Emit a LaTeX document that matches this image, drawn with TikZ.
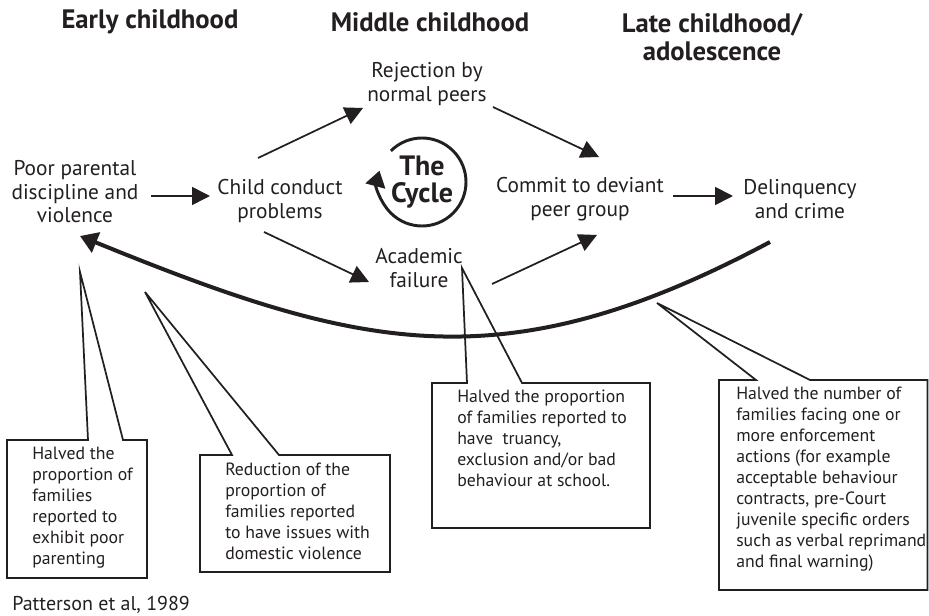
\documentclass[tikz,border=0pt]{standalone}
\usepackage{fontspec}
\setmainfont{PT Sans}
\usetikzlibrary{arrows.meta}
\definecolor{ink}{RGB}{35,31,32}

\begin{document}
\begin{tikzpicture}[x=0.75pt, y=-0.75pt,
    stage/.style={font=\bfseries\fontsize{20}{21}\selectfont, align=center, text=ink},
    item/.style={font=\fontsize{16}{17.6}\selectfont, align=center, inner sep=0pt, text=ink},
    note/.style={font=\fontsize{13.3}{15.75}\selectfont, align=left, anchor=north west, inner sep=0pt, text=ink},
    link/.style={draw=ink, line width=1.3pt, -{Triangle[length=13.5pt, width=13.5pt]}},
    loopback/.style={draw=ink, line width=3pt, -{Triangle[length=13pt, width=16pt]}},
    callout/.style={draw=ink, line width=1.3pt, line join=miter}]

    \useasboundingbox (0,0) rectangle (929,616);

    \node[stage] (early) at (150,22) {Early childhood};
    \node[stage] (middle) at (430,22) {Middle childhood};
    \node[stage] (late) at (712,37) {Late childhood/\\adolescence};

    \node[item] (poor) at (75,192) {Poor parental\\discipline and\\violence};
    \node[item] (child) at (280,201) {Child conduct\\problems};
    \node[item] (peers) at (427,84) {Rejection by\\normal peers};
    \node[item] (school) at (419,268) {Academic\\failure};
    \node[item] (deviant) at (580,199) {Commit to deviant\\peer group};
    \node[item] (crime) at (800,199) {Delinquency\\and crime};

    \node[item, font=\bfseries\fontsize{21}{20}\selectfont] (cycle) at (422,182) {The\\Cycle};
    \draw[draw=ink, line width=2.2pt, -{Triangle[length=12pt, width=15pt]}]
    (cycle.center) ++(-135:44) arc[start angle=-135, end angle=195, radius=44];

    \draw[link] ([shift={(76,4)}]poor.center) -- ([shift={(-70,-5)}]child.center);
    \draw[link] ([shift={(-22,-43)}]child.center) -- ([shift={(-64,24)}]peers.center);
    \draw[link] ([shift={(-16,31)}]child.center) -- ([shift={(-50,14)}]school.center);
    \draw[link] ([shift={(66,23)}]peers.center) -- ([shift={(19,-42)}]deviant.center);
    \draw[link] ([shift={(73,16)}]school.center) -- ([shift={(17,36)}]deviant.center);
    \draw[link] ([shift={(93,-3)}]deviant.center) -- ([shift={(-67,-3)}]crime.center);

    \draw[loopback] ([shift={(-30,43)}]crime.center)
    .. controls (502,385) and (360,350) .. ([shift={(5,44)}]poor.center);

    % callouts
    \draw[callout] (80,272) -- (88,440) -- (7,440) -- (7,578) -- (147,578) -- (147,440) -- (123,440) -- cycle;
    \draw[callout] (145,292) -- (232,455) -- (200,455) -- (200,572) -- (390,572) -- (390,455) -- (279,455) -- cycle;
    \draw[callout] (462,268) -- (467,383) -- (432,383) -- (432,528) -- (650,528) -- (650,383) -- (522,383) -- cycle;
    \draw[callout] (657,303) -- (756,380) -- (719,380) -- (719,590) -- (927.5,590) -- (927.5,380) -- (810,380) -- cycle;

    \node[note] (parenting) at (32,447) {Halved the\\proportion of\\families\\reported to\\exhibit poor\\parenting};
    \node[note] (violence) at (225,463) {Reduction of the\\proportion of\\families reported\\to have issues with\\domestic violence};
    \node[note] (truancy) at (457,390) {Halved the proportion\\of families reported to\\have~ truancy,\\exclusion and/or bad\\behaviour at school.};
    \node[note] (orders) at (736,387) {Halved the number of\\families facing one or\\more enforcement\\actions (for example\\acceptable behaviour\\contracts, pre-Court\\juvenile specific orders\\such as verbal reprimand\\and final warning)};

    \node[note, font=\fontsize{15}{17}\selectfont, anchor=west] (source) at (12,605) {Patterson et al, 1989};

\end{tikzpicture}
\end{document}
